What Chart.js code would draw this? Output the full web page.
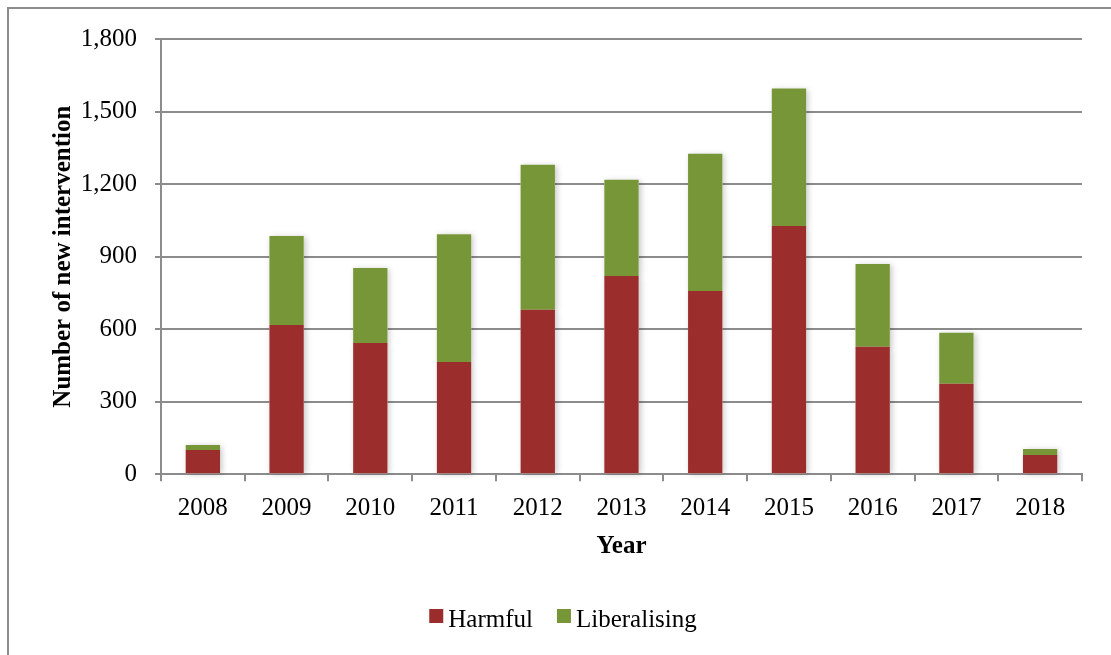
<!DOCTYPE html>
<html>
<head>
<meta charset="utf-8">
<title>Number of new interventions by year</title>
<script src="https://cdn.jsdelivr.net/npm/chart.js@4/dist/chart.umd.min.js"></script>
<style>
  html, body { margin: 0; padding: 0; background: #ffffff; }
  #wrap { width: 1111px; height: 655px; position: relative; }
</style>
</head>
<body>
<div id="wrap"><canvas id="chart" width="1111" height="655"></canvas></div>
<script>
// Yearly counts of new interventions, split by type
const years = ['2008', '2009', '2010', '2011', '2012', '2013', '2014', '2015', '2016', '2017', '2018'];
const harmful = [100, 617, 543, 464, 680, 820, 758, 1027, 527, 374, 80];
const liberalising = [21, 368, 310, 529, 600, 398, 567, 568, 343, 211, 25];
const seriesNames = ['Harmful', 'Liberalising'];
const yAxisMax = 1800;
const yAxisStep = 300;

const RED = 'rgb(155, 45, 45)';
const GREEN = 'rgb(119, 150, 55)';
const GRID = '#8c8c8c';
const FONT = '"Liberation Serif", "Times New Roman", Times, serif';

// Soft shadow behind each stacked bar segment, painted before the bars themselves
const barShadow = {
  id: 'barShadow',
  beforeDatasetsDraw(chart) {
    const ctx = chart.ctx;
    ctx.save();
    ctx.shadowColor = 'rgba(0, 0, 0, 0.22)';
    ctx.shadowBlur = 6;
    ctx.shadowOffsetX = 2;
    ctx.shadowOffsetY = 1;
    ctx.fillStyle = '#ffffff';
    chart.data.datasets.forEach((ds, i) => {
      chart.getDatasetMeta(i).data.forEach(bar => {
        const { x, y, base, width } = bar.getProps(['x', 'y', 'base', 'width'], true);
        ctx.fillRect(x - width / 2, Math.min(y, base), width, Math.abs(base - y));
      });
    });
    ctx.restore();
  }
};

// Outer frame and the legend row underneath the axis title
const frameAndLegend = {
  id: 'frameAndLegend',
  afterDraw(chart) {
    const ctx = chart.ctx;
    ctx.save();
    ctx.strokeStyle = GRID;
    ctx.lineWidth = 2;
    ctx.strokeRect(8, 8, 1300, 900);

    ctx.font = '25px ' + FONT;
    ctx.textBaseline = 'alphabetic';
    const box = 14, gap = 5, spacing = 24;
    const items = chart.data.datasets.map(ds => ({
      label: ds.label, color: ds.backgroundColor, w: ctx.measureText(ds.label).width
    }));
    const total = items.reduce((s, it) => s + box + gap + it.w, 0) + spacing * (items.length - 1);
    let x = 563 - total / 2;
    const boxTop = 609, baseline = 627;
    items.forEach(it => {
      ctx.fillStyle = it.color;
      ctx.fillRect(x, boxTop, box, box);
      ctx.fillStyle = '#000000';
      ctx.fillText(it.label, x + box + gap, baseline);
      x += box + gap + it.w + spacing;
    });
    ctx.restore();
  }
};

new Chart(document.getElementById('chart'), {
  type: 'bar',
  data: {
    labels: years,
    datasets: [
      { label: seriesNames[0], data: harmful, backgroundColor: RED, borderWidth: 0 },
      { label: seriesNames[1], data: liberalising, backgroundColor: GREEN, borderWidth: 0 }
    ]
  },
  options: {
    responsive: false,
    animation: false,
    devicePixelRatio: 1,
    barPercentage: 0.41,
    categoryPercentage: 1,
    layout: { padding: { left: 0, right: 29, top: 39, bottom: 90 } },
    plugins: {
      legend: { display: false },
      tooltip: { enabled: false }
    },
    scales: {
      x: {
        stacked: true,
        afterFit(scale) { scale.height = 90.7; },
        grid: {
          display: true, drawOnChartArea: false, drawTicks: true,
          tickLength: 7, color: GRID, lineWidth: 2, offset: true
        },
        border: { display: true, color: GRID, width: 2 },
        ticks: { color: '#000000', padding: 12, font: { family: FONT, size: 25 } },
        title: {
          display: true, text: 'Year', color: '#000000',
          padding: { top: 0, bottom: 3 },
          font: { family: FONT, size: 25, weight: 'bold' }
        }
      },
      y: {
        stacked: true,
        min: 0,
        max: yAxisMax,
        afterFit(scale) { scale.width = 161; },
        grid: { color: GRID, lineWidth: 2, tickLength: 6, drawTicks: true },
        border: { display: true, color: GRID, width: 2 },
        ticks: {
          stepSize: yAxisStep,
          color: '#000000',
          padding: 18,
          font: { family: FONT, size: 25 },
          callback: v => v.toLocaleString('en-US')
        },
        title: {
          display: true, text: 'Number of new intervention', color: '#000000',
          padding: { top: 49, bottom: 0 },
          font: { family: FONT, size: 25, weight: 'bold' }
        }
      }
    }
  },
  plugins: [barShadow, frameAndLegend]
});
</script>
</body>
</html>
